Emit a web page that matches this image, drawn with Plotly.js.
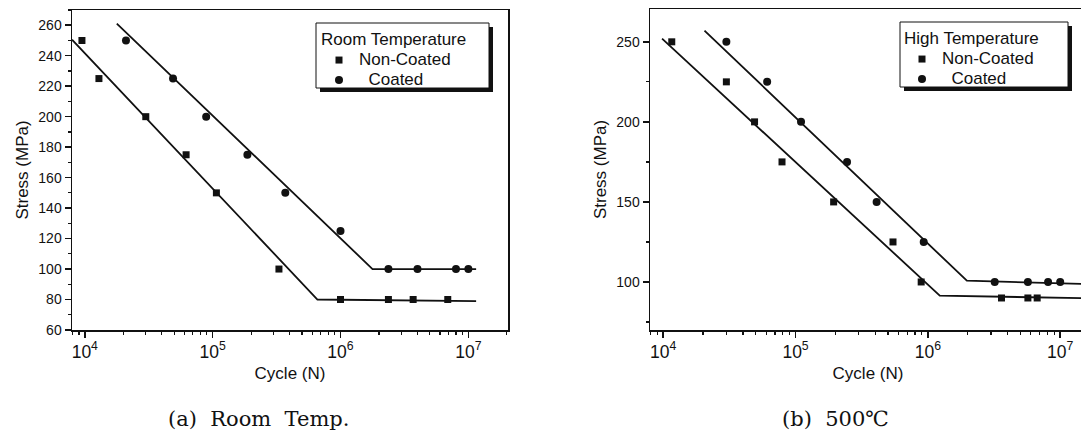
<!DOCTYPE html>
<html>
<head>
<meta charset="utf-8">
<script src="https://cdn.plot.ly/plotly-3.0.1.min.js"></script>
<style>
html,body{margin:0;padding:0;overflow:hidden;background:#fff;}
#chart{width:1090px;height:439px;}
</style>
</head>
<body>
<div id="chart"></div>
<script>
// ---- Data ----
// (a) Room temperature
const leftNC_x = [9.5e3, 1.29e4, 3.0e4, 6.2e4, 1.07e5, 3.3e5, 1.0e6, 2.37e6, 3.7e6, 6.9e6];
const leftNC_y = [250, 225, 200, 175, 150, 100, 80, 80, 80, 80];
const leftC_x  = [2.1e4, 4.9e4, 8.9e4, 1.87e5, 3.7e5, 1.0e6, 2.37e6, 4.0e6, 8.0e6, 1.0e7];
const leftC_y  = [250, 225, 200, 175, 150, 125, 100, 100, 100, 100];
const leftNCfit_x = [7943, 6.6e5, 1.15e7];
const leftNCfit_y = [250.5, 80, 79];
const leftCfit_x  = [1.78e4, 1.78e6, 1.15e7];
const leftCfit_y  = [261, 100, 100];

// (b) 500 C
const rightNC_x = [1.16e4, 3.0e4, 4.9e4, 7.9e4, 1.94e5, 5.45e5, 8.9e5, 3.6e6, 5.7e6, 6.7e6];
const rightNC_y = [250, 225, 200, 175, 150, 125, 100, 90, 90, 90];
const rightC_x  = [3.0e4, 6.1e4, 1.1e5, 2.45e5, 4.1e5, 9.3e5, 3.2e6, 5.7e6, 8.1e6, 1.0e7];
const rightC_y  = [250, 225, 200, 175, 150, 125, 100, 100, 100, 100];
const rightNCfit_x = [9.8e3, 1.23e6, 1.6e7];
const rightNCfit_y = [252, 91.5, 89.8];
const rightCfit_x  = [2.05e4, 1.97e6, 1.6e7];
const rightCfit_y  = [257, 100.8, 98.7];

const seriesNames = ["Non-Coated", "\u00a0\u00a0Coated"];
const legendTitles = ["Room Temperature", "High Temperature"];
const captions = ["(a)\u00a0\u00a0Room\u00a0\u00a0Temp.", "(b)\u00a0\u00a0500\u2103"];

// ---- Layout helpers ----
const W = 1090, H = 439;
const px = x => x / W;
const py = y => 1 - y / H;
const INK = "#111";
const FONT = "Liberation Sans, Arial, sans-serif";

function big(t) { return "<span style='font-size:17px'>" + t + "</span>"; }

function fitLine(x, y, xa, ya) {
  return {x, y, xaxis: xa, yaxis: ya, type: "scatter", mode: "lines",
          line: {color: INK, width: 1.8}, showlegend: false, hoverinfo: "skip"};
}
function pts(x, y, xa, ya, name, sym, size, leg) {
  return {x, y, xaxis: xa, yaxis: ya, type: "scatter", mode: "markers", name: big(name),
          marker: {symbol: sym, size, color: INK}, legend: leg, showlegend: true};
}

const data = [
  fitLine(leftNCfit_x, leftNCfit_y, "x", "y"),
  fitLine(leftCfit_x, leftCfit_y, "x", "y"),
  pts(leftNC_x, leftNC_y, "x", "y", seriesNames[0], "square", 7, "legend"),
  pts(leftC_x, leftC_y, "x", "y", seriesNames[1], "circle", 8, "legend"),
  fitLine(rightNCfit_x, rightNCfit_y, "x2", "y2"),
  fitLine(rightCfit_x, rightCfit_y, "x2", "y2"),
  pts(rightNC_x, rightNC_y, "x2", "y2", seriesNames[0], "square", 7, "legend2"),
  pts(rightC_x, rightC_y, "x2", "y2", seriesNames[1], "circle", 8, "legend2")
];

function xAxis(domain, range, anchor) {
  return {
    type: "log", domain, range, anchor,
    dtick: 1, exponentformat: "power",
    ticks: "outside", ticklen: 6, tickwidth: 1.5, tickcolor: INK,
    minor: {ticks: "outside", ticklen: 3, tickwidth: 1.2, tickcolor: INK, dtick: "D1"},
    showline: true, linewidth: 1.5, linecolor: INK, mirror: true,
    showgrid: false, zeroline: false,
    tickfont: {family: FONT, size: 14, color: INK},
    title: {text: "Cycle (N)", font: {family: FONT, size: 17, color: INK}, standoff: 6},
    automargin: false
  };
}
function yAxis(domain, range, dtick, minorDtick, anchor) {
  return {
    domain, range, dtick, anchor,
    ticks: "outside", ticklen: 6, tickwidth: 1.5, tickcolor: INK,
    minor: {ticks: "outside", ticklen: 3, tickwidth: 1.2, tickcolor: INK, dtick: minorDtick},
    showline: true, linewidth: 1.5, linecolor: INK, mirror: true,
    showgrid: false, zeroline: false,
    tickfont: {family: FONT, size: 14, color: INK},
    title: {text: "Stress (MPa)", font: {family: FONT, size: 17, color: INK}},
    automargin: false
  };
}

function legendBox(x0, y0, x1, y1) {
  return [
    {type: "rect", xref: "paper", yref: "paper", x0: px(x0 + 4), x1: px(x1 + 4), y0: py(y0 + 4), y1: py(y1 + 4),
     fillcolor: INK, line: {width: 0}, layer: "above"},
    {type: "rect", xref: "paper", yref: "paper", x0: px(x0), x1: px(x1), y0: py(y0), y1: py(y1),
     fillcolor: "#fff", line: {color: INK, width: 1}, layer: "above"}
  ];
}

function legendDef(x, y, title) {
  return {
    x: px(x), y: py(y), xanchor: "left", yanchor: "top",
    bgcolor: "rgba(0,0,0,0)", borderwidth: 0,
    font: {family: FONT, size: 13, color: INK},
    title: {text: title, font: {family: FONT, size: 17, color: INK}},
    itemwidth: 30, tracegroupgap: 0
  };
}

const layout = {
  width: W, height: H,
  margin: {l: 0, r: 0, t: 0, b: 0},
  paper_bgcolor: "#fff", plot_bgcolor: "#fff",
  font: {family: FONT, color: INK},
  xaxis: xAxis([px(72), px(508)], [3.90, 7.31], "y"),
  yaxis: yAxis([py(330), py(10)], [60, 270], 20, 10, "x"),
  xaxis2: xAxis([px(650), px(1086)], [3.90, 7.195], "y2"),
  yaxis2: yAxis([py(330), py(9)], [70, 270.5], 50, 25, "x2"),
  shapes: [...legendBox(316, 23, 489, 88), ...legendBox(900, 22, 1068, 87)],
  legend: legendDef(319, 23, legendTitles[0]),
  legend2: legendDef(902, 22, legendTitles[1]),
  annotations: [
    {text: captions[0], xref: "paper", yref: "paper", x: px(258), y: py(419), xanchor: "center", yanchor: "middle",
     showarrow: false, font: {family: "DejaVu Serif, Liberation Serif, serif", size: 21, color: INK}},
    {text: captions[1], xref: "paper", yref: "paper", x: px(835), y: py(419), xanchor: "center", yanchor: "middle",
     showarrow: false, font: {family: "DejaVu Serif, Liberation Serif, serif", size: 21, color: INK}}
  ],
  showlegend: true
};

Plotly.newPlot("chart", data, layout, {staticPlot: true, displayModeBar: false});
</script>
</body>
</html>
